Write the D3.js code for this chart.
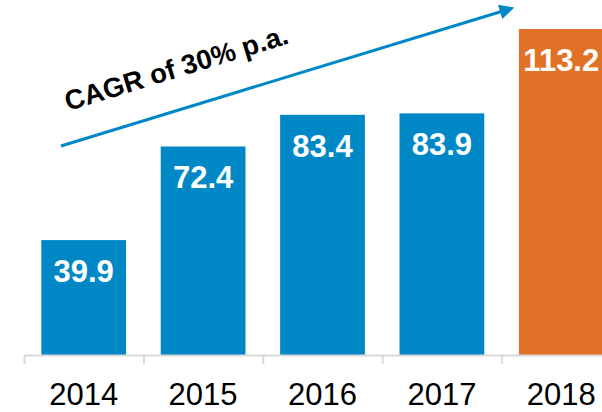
<!DOCTYPE html>
<html>
<head>
<meta charset="utf-8">
<script src="https://cdn.jsdelivr.net/npm/d3@7"></script>
<style>
	body { margin: 0; background: #fff; }
	svg { display: block; font-family: 'Liberation Sans', Arial, sans-serif; }
</style>
</head>
<body>
<svg id="chart" width="602" height="412"></svg>
<script>
var years = ['2014', '2015', '2016', '2017', '2018']
var values = [39.9, 72.4, 83.4, 83.9, 113.2]
var barColors = ['#0088c6', '#0088c6', '#0088c6', '#0088c6', '#e07126']
var cagrLabel = 'CAGR of 30% p.a.'

var W = 602, H = 412
var baseY = 355, topY = 29
var svg = d3.select('#chart')

var x = d3.scaleBand().domain(years).range([24, 621]).paddingInner(0.29).paddingOuter(0.145)
var xEdge = d3.scaleLinear().domain([0, years.length]).range([24, 621])
var y = d3.scaleLinear().domain([0, d3.max(values)]).range([baseY, topY])

// bars
var bars = svg.selectAll('g.bar').data(values).enter().append('g').attr('class', 'bar')
bars.append('rect')
	.attr('x', function(d, i) { return x(years[i]) })
	.attr('y', function(d) { return y(d) })
	.attr('width', x.bandwidth())
	.attr('height', function(d) { return baseY - y(d) })
	.attr('fill', function(d, i) { return barColors[i] })
bars.append('text')
	.attr('x', function(d, i) { return x(years[i]) + x.bandwidth() / 2 })
	.attr('y', function(d) { return y(d) + 42 })
	.attr('text-anchor', 'middle')
	.attr('font-size', 31)
	.attr('font-weight', 'bold')
	.attr('fill', '#fff')
	.text(function(d) { return d.toFixed(1) })

// axis line + ticks at band edges
var edgeAxis = svg.append('g').attr('transform', 'translate(0,' + baseY + ')')
	.call(d3.axisBottom(xEdge).tickValues(d3.range(years.length)).tickSize(9).tickSizeOuter(0).tickFormat(''))
edgeAxis.select('.domain').attr('stroke', '#d9d9d9').attr('stroke-width', 2)
edgeAxis.selectAll('.tick line').attr('stroke', '#d9d9d9').attr('stroke-width', 2)

// year labels
var catAxis = svg.append('g').attr('transform', 'translate(0,' + baseY + ')')
	.call(d3.axisBottom(x).tickSize(0))
catAxis.select('.domain').remove()
catAxis.selectAll('text')
	.attr('y', 50).attr('dy', 0)
	.attr('font-size', 31)
	.attr('font-family', "'Liberation Sans', Arial, sans-serif")
	.attr('fill', '#000')

// CAGR arrow
var arrowStart = [61, 146], arrowTip = [516, 7]
var dx = arrowTip[0] - arrowStart[0], dy = arrowTip[1] - arrowStart[1]
var len = Math.sqrt(dx * dx + dy * dy)
var ux = dx / len, uy = dy / len
svg.append('defs').append('marker')
	.attr('id', 'cagr-arrow')
	.attr('viewBox', '0 -5 10 10')
	.attr('refX', 2)
	.attr('markerUnits', 'userSpaceOnUse')
	.attr('markerWidth', 17)
	.attr('markerHeight', 15)
	.attr('orient', 'auto')
	.append('path')
	.attr('d', 'M0,-5L10,0L0,5Z')
	.attr('fill', '#0088c6')
svg.append('line')
	.attr('x1', arrowStart[0]).attr('y1', arrowStart[1])
	.attr('x2', arrowTip[0] - ux * 13.6).attr('y2', arrowTip[1] - uy * 13.6)
	.attr('stroke', '#0088c6')
	.attr('stroke-width', 3)
	.attr('marker-end', 'url(#cagr-arrow)')

var angle = Math.atan2(dy, dx) * 180 / Math.PI
svg.append('text')
	.attr('transform', 'translate(68,111) rotate(' + angle + ')')
	.attr('font-size', 27.5)
	.attr('font-weight', 'bold')
	.attr('fill', '#000')
	.text(cagrLabel)
</script>
</body>
</html>
